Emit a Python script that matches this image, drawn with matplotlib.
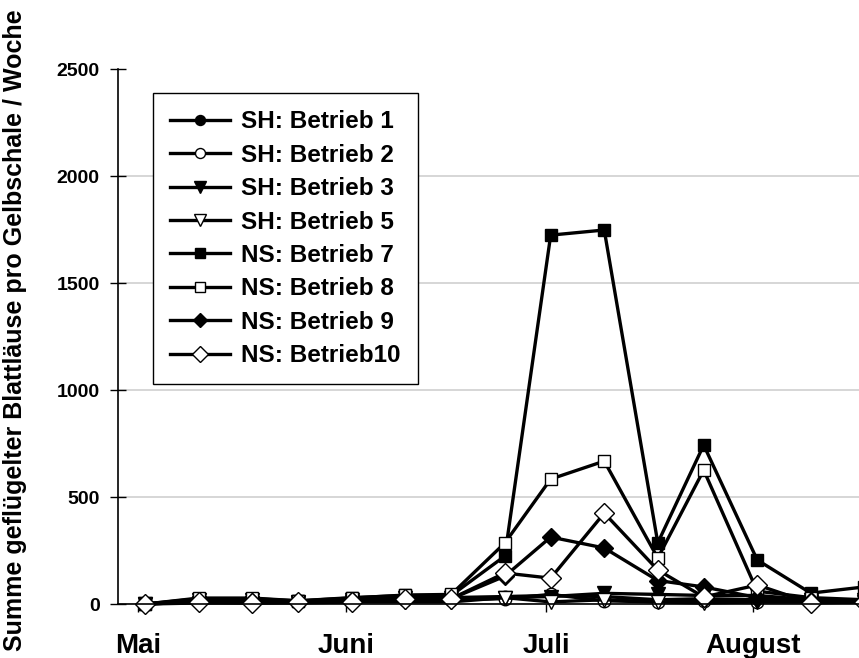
import matplotlib
matplotlib.use("Agg")
import matplotlib.pyplot as plt

plt.rcParams['font.family'] = ['Liberation Sans', 'DejaVu Sans']
plt.rcParams['font.weight'] = 'bold'

# Probenahme-Tage (Tage ab erster Leerung)
days = [0, 7, 14, 20, 27, 34, 40, 47, 53, 60, 67, 73, 80, 87, 94]

sh_betrieb1 = [2, 10, 10, 8, 15, 25, 30, 35, 40, 35, 20, 25, 20, 15, 15]
sh_betrieb2 = [0, 15, 15, 10, 15, 20, 20, 25, 45, 15, 10, 15, 10, 10, 10]
sh_betrieb3 = [0, 20, 20, 10, 20, 30, 30, 30, 35, 50, 45, 40, 40, 20, 20]
sh_betrieb5 = [0, 5, 5, 5, 10, 10, 10, 30, 10, 20, 10, 5, 10, 10, 10]
ns_betrieb7 = [0, 25, 25, 15, 30, 40, 40, 224, 1724, 1748, 286, 743, 206, 51, 80]
ns_betrieb8 = [0, 28, 28, 15, 28, 42, 45, 285, 584, 668, 215, 626, 60, 30, 20]
ns_betrieb9 = [0, 10, 10, 8, 15, 25, 25, 130, 313, 262, 110, 80, 30, 15, 15]
ns_betrieb10 = [0, 10, 5, 10, 10, 25, 25, 145, 121, 425, 159, 33, 89, 5, 10]

labels = ["SH: Betrieb 1", "SH: Betrieb 2", "SH: Betrieb 3", "SH: Betrieb 5",
          "NS: Betrieb 7", "NS: Betrieb 8", "NS: Betrieb 9", "NS: Betrieb10"]
series = [sh_betrieb1, sh_betrieb2, sh_betrieb3, sh_betrieb5,
          ns_betrieb7, ns_betrieb8, ns_betrieb9, ns_betrieb10]
markers = ["o", "o", "v", "v", "s", "s", "D", "D"]
faces = ["black", "white", "black", "white", "black", "white", "black", "white"]
sizes = [9, 9, 10, 10, 9, 9, 9, 10]

month_names = ["Mai", "Juni", "Juli", "August"]
month_ticks = [-0.9, 26.2, 52.4, 79.5]

fig = plt.figure(figsize=(8.59, 6.58), dpi=100)
ax = fig.add_axes([0.137, 0.082, 0.863, 0.813])

for vals, lab, m, fc, ms in zip(series, labels, markers, faces, sizes):
    ax.plot(days, vals, color="black", lw=2.4, marker=m, markersize=ms,
            markerfacecolor=fc, markeredgecolor="black", markeredgewidth=1.0,
            label=lab, clip_on=False)

ax.set_xlim(-3.6, 93.3)
ax.set_ylim(0, 2500)
ax.set_yticks([0, 500, 1000, 1500, 2000, 2500])
ax.yaxis.grid(True, color="#d0d0d0", lw=1.2)
ax.get_ygridlines()[-1].set_visible(False)
ax.set_axisbelow(True)
ax.tick_params(axis="y", labelsize=14, direction="inout", length=12, width=1, pad=7)

ax.set_xticks(month_ticks)
ax.set_xticklabels(month_names, fontsize=20, fontweight="bold")
ax.tick_params(axis="x", direction="out", length=6, width=1, pad=15)

for s in ["top", "right"]:
    ax.spines[s].set_visible(False)
ax.spines["left"].set_linewidth(1.2)
ax.spines["bottom"].set_linewidth(1.2)

fig.text(15 / 859, 0.498, "Summe geflügelter Blattläuse pro Gelbschale / Woche",
         rotation=90, ha="center", va="center", fontsize=18, fontweight="bold")

leg = ax.legend(loc="upper left", bbox_to_anchor=(0.047, 0.955),
                prop={"weight": "bold", "size": 17.5}, markerscale=0.8,
                handlelength=2.5, handletextpad=0.45, fancybox=False,
                edgecolor="black", framealpha=1, borderpad=0.7,
                labelspacing=0.43, borderaxespad=0)
leg.get_frame().set_linewidth(1.0)

fig.savefig("out.png", dpi=100)
